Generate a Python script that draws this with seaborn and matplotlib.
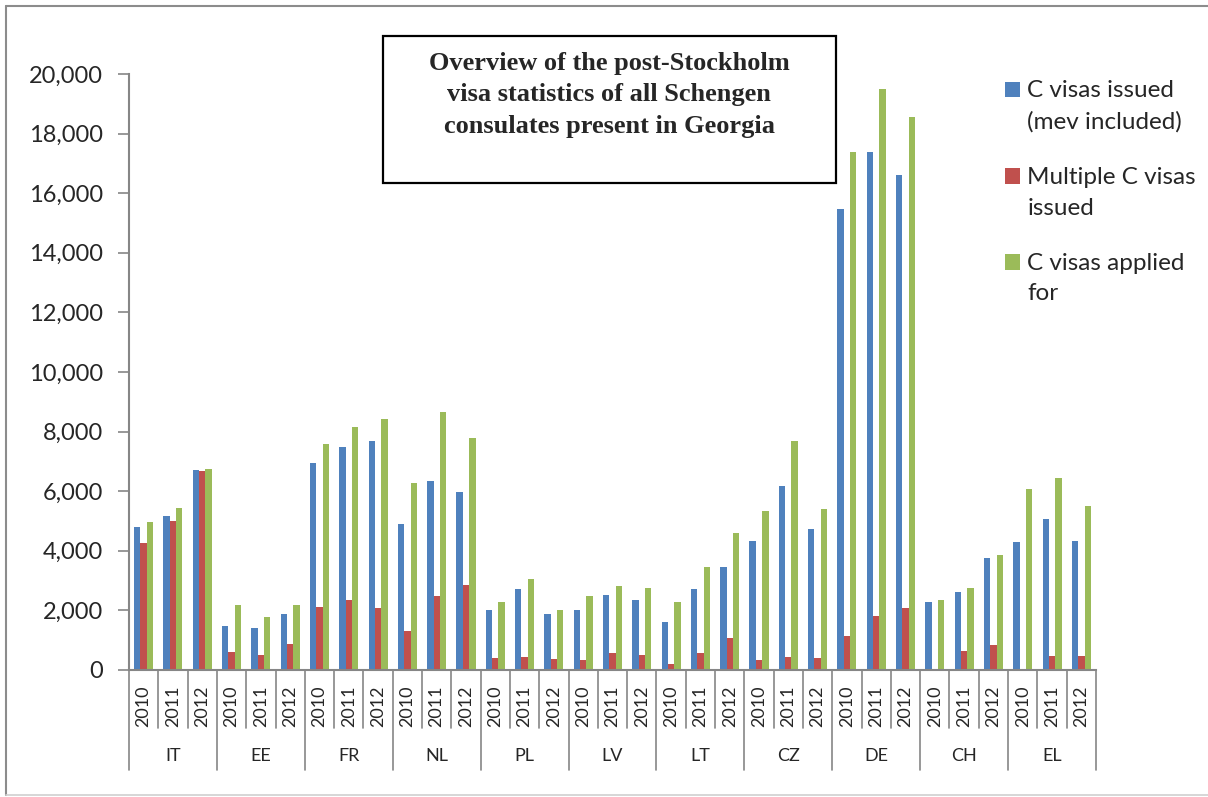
import numpy as np
import pandas as pd
import matplotlib
matplotlib.use('Agg')
import matplotlib.pyplot as plt
import matplotlib.transforms as mtransforms
from matplotlib.patches import Rectangle
from matplotlib.lines import Line2D
from matplotlib.legend_handler import HandlerPatch
import seaborn as sns

# datos
paises = ['IT', 'EE', 'FR', 'NL', 'PL', 'LV', 'LT', 'CZ', 'DE', 'CH', 'EL']
anios = ['2010', '2011', '2012']

emitidas = [4800, 5170, 6710,  1490, 1400, 1880,  6950, 7490, 7680,
            4910, 6330, 5980,  2010, 2730, 1870,  2010, 2510, 2360,
            1610, 2710, 3440,  4340, 6160, 4740,  15480, 17390, 16600,
            2290, 2610, 3770,  4310, 5060, 4340]
multiples = [4260, 4990, 6670,  620, 500, 880,  2110, 2360, 2070,
             1320, 2490, 2850,  390, 440, 380,  320, 570, 490,
             190, 560, 1070,  350, 420, 400,  1130, 1800, 2090,
             np.nan, 650, 840,  np.nan, 460, 480]
solicitadas = [4960, 5440, 6760,  2170, 1770, 2170,  7580, 8140, 8410,
               6260, 8650, 7770,  2290, 3040, 2030,  2470, 2810, 2750,
               2290, 3470, 4600,  5340, 7690, 5400,  17370, 19510, 18560,
               2360, 2760, 3870,  6070, 6440, 5510]

series = ['C visas issued\n(mev included)', 'Multiple C visas\nissued', 'C visas applied\nfor']
colores = ['#4F81BD', '#C0504D', '#9BBB59']

slots = [f'{p} {a}' for p in paises for a in anios]
df = pd.DataFrame({
    'slot': slots * 3,
    'valor': emitidas + multiples + solicitadas,
    'serie': [s for s in series for _ in slots],
})

sns.set_style('white')
plt.rcParams['font.family'] = ['Lato', 'DejaVu Sans']

W, H = 1208, 797
fig = plt.figure(figsize=(W / 100, H / 100), dpi=100)
ax = fig.add_axes([129 / W, 1 - 670 / H, (1096 - 129) / W, (670 - 74) / H])

sns.barplot(data=df, x='slot', y='valor', hue='serie', order=slots, hue_order=series,
            palette=colores, width=0.65, saturation=1, errorbar=None,
            linewidth=0, ax=ax)

gris = '#868686'
ax.set_xlim(-0.5, len(slots) - 0.5)
ax.set_ylim(0, 20000)
ax.set_yticks(range(0, 20001, 2000))
ax.yaxis.set_major_formatter(matplotlib.ticker.StrMethodFormatter('{x:,.0f}'))
ax.tick_params(axis='y', labelsize=17, length=8, width=1.2, color=gris, pad=10.5, left=True)
ax.set_xticks(range(len(slots)))
ax.set_xticklabels([a for p in paises for a in anios], rotation=90, fontsize=13)
ax.tick_params(axis='x', length=0, pad=11)
ax.set_xlabel('')
ax.set_ylabel('')
for lado in ['top', 'right']:
    ax.spines[lado].set_visible(False)
for lado in ['left', 'bottom']:
    ax.spines[lado].set_color(gris)
    ax.spines[lado].set_linewidth(1.5)

# separadores y etiquetas de pais debajo del eje
trans = mtransforms.blended_transform_factory(ax.transData, ax.transAxes)
for i in range(len(slots) + 1):
    fondo = -0.168 if i % 3 == 0 else -0.097
    ax.plot([i - 0.5, i - 0.5], [0, fondo], color=gris, lw=1.2,
            transform=trans, clip_on=False)
for k, p in enumerate(paises):
    ax.text(3 * k + 1, -0.1435, p, transform=trans, ha='center', va='center', fontsize=13)


# leyenda: el cuadrado va a la altura de la primera linea del texto
def cuadro_arriba(legend, orig_handle, xdescent, ydescent, width, height, fontsize):
    return Rectangle((-xdescent, -ydescent + 12.0), width, height)


handles, labels = ax.get_legend_handles_labels()
leg = ax.legend(handles, labels, loc='upper left', bbox_to_anchor=(1005 / W, 1 - 80 / H),
                bbox_transform=fig.transFigure, frameon=False, fontsize=17.5,
                borderpad=0, borderaxespad=0,
                handlelength=0.62, handleheight=0.62, handletextpad=0.3, labelspacing=1.4,
                handler_map={h: HandlerPatch(patch_func=cuadro_arriba) for h in handles})
for t in leg.get_texts():
    t.set_linespacing(1.58)

# recuadro del titulo
fig.add_artist(Rectangle((383 / W, 1 - 183 / H), (836 - 383) / W, (183 - 36) / H,
                         transform=fig.transFigure, facecolor='white', edgecolor='black', lw=1.6))
fig.text(609 / W, 1 - 52 / H,
         'Overview of the post-Stockholm\nvisa statistics of all Schengen\nconsulates present in Georgia',
         ha='center', va='top', fontsize=19, fontweight='bold',
         family='Liberation Serif', linespacing=1.46)

# marco exterior
fig.add_artist(Line2D([6 / W, 6 / W], [1 - 795 / H, 1 - 6 / H], transform=fig.transFigure,
                      color='#8c8c8c', lw=1.5))
fig.add_artist(Line2D([6 / W, 1], [1 - 6 / H, 1 - 6 / H], transform=fig.transFigure,
                      color='#8c8c8c', lw=1.5))
fig.add_artist(Line2D([6 / W, 1], [1 - 795 / H, 1 - 795 / H], transform=fig.transFigure,
                      color='#d0d0d0', lw=1.2))

fig.savefig('out.png', dpi=100)
